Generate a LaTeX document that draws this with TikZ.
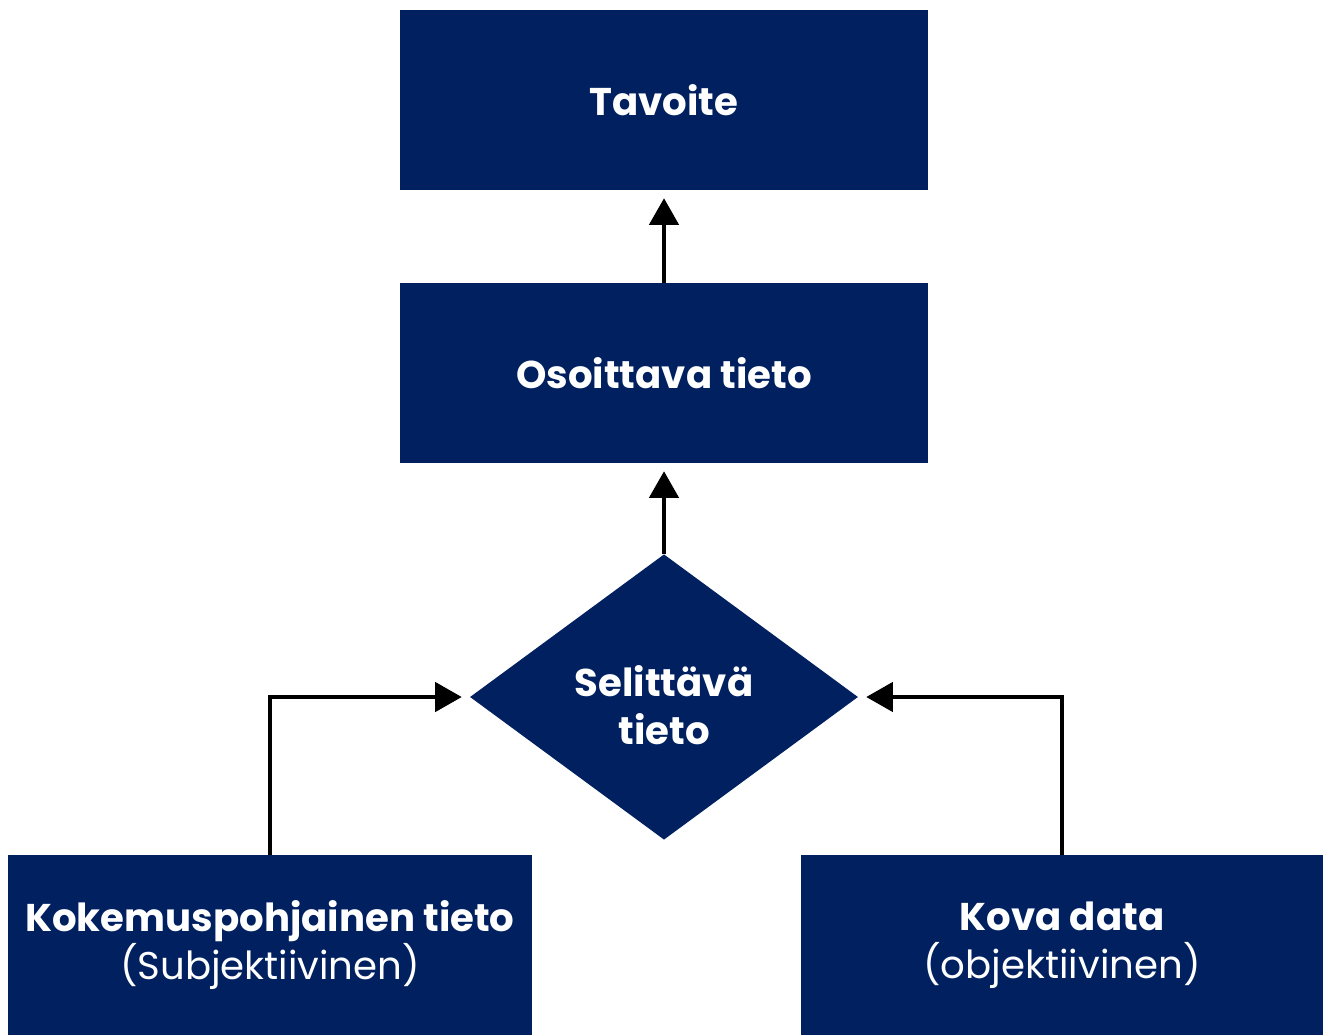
\documentclass[tikz,border=0pt]{standalone}
\usepackage{xcolor}
\usepackage{fontspec}
\setmainfont{Poppins}
\usepackage{tikz}
\usetikzlibrary{shapes.geometric,arrows.meta}

\definecolor{navy}{HTML}{002060}
\tikzset{
  navybox/.style={rectangle, fill=navy, text=white, align=center, inner sep=0pt,
    font=\fontsize{29}{36}\selectfont},
  navydiamond/.style={diamond, fill=navy, text=white, align=center, inner sep=0pt,
    font=\fontsize{29}{36}\selectfont\bfseries},
  uparrow/.style={line width=2.8pt, -{Triangle[length=20pt,width=22pt]}, shorten >=6pt}
}

\begin{document}
\begin{tikzpicture}[x=0.75pt,y=0.75pt,yscale=-1,xscale=1]
	\useasboundingbox (0,0) rectangle (1331,1035);
	
	%Shape: Rectangle [id:tavoite]
	\node [navybox, minimum width=396pt, minimum height=135pt] (tavoite) at (664,100) {\bfseries Tavoite};
	%Shape: Rectangle [id:osoittava]
	\node [navybox, minimum width=396pt, minimum height=135pt] (osoittava) at (664,373) {\bfseries Osoittava tieto};
	%Shape: Diamond [id:selittava]
	\node [navydiamond, minimum width=291pt, minimum height=214pt] (selittava) at (664,697) {};
	% Text Node
	\node [navydiamond, fill=none] (selittavateksti) at (664,705) {Selittävä\\tieto};
	%Shape: Rectangle [id:kokemus]
	\node [navybox, minimum width=393pt, minimum height=135pt] (kokemus) at (270,945) {\textbf{Kokemuspohjainen tieto}\\(Subjektiivinen)};
	%Shape: Rectangle [id:kova]
	\node [navybox, minimum width=391pt, minimum height=135pt] (kova) at (1062,945) {\textbf{Kova data}\\(objektiivinen)};
	
	%Straight Lines
	\draw [uparrow] (osoittava.north) -- (tavoite.south);
	\draw [uparrow] (selittava.north) -- (osoittava.south);
	\draw [uparrow] (kokemus.north) |- (selittava.west);
	\draw [uparrow] (kova.north) |- (selittava.east);
	
\end{tikzpicture}
\end{document}
